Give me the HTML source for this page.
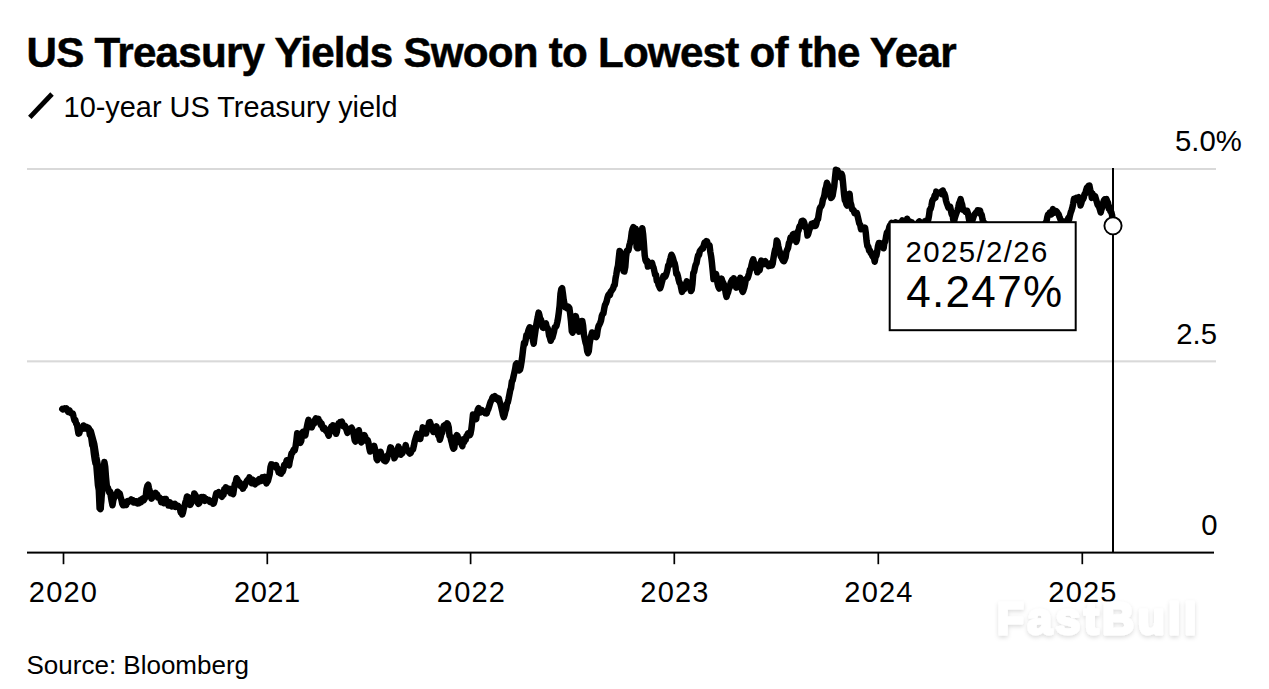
<!DOCTYPE html>
<html><head><meta charset="utf-8">
<style>
html,body{margin:0;padding:0;background:#fff;}
body{width:1269px;height:689px;overflow:hidden;position:relative;}
svg{position:absolute;left:0;top:0;}
text{font-family:"Liberation Sans",sans-serif;fill:#000;}
</style></head><body>
<svg width="1269" height="689" viewBox="0 0 1269 689">
<text x="26.6" y="67.3" font-size="42.2" font-weight="700" letter-spacing="-0.78" stroke="#000" stroke-width="0.5">US Treasury Yields Swoon to Lowest of the Year</text>
<line x1="29.8" y1="117.3" x2="52" y2="94" stroke="#000" stroke-width="4.8"/>
<text x="63.6" y="116.7" font-size="28.9">10-year US Treasury yield</text>
<rect x="27" y="168" width="1189" height="2" fill="#d9d9d9"/>
<rect x="27" y="360.3" width="1189" height="2.1" fill="#d9d9d9"/>
<g font-size="29.3">
<text x="1175" y="151">5.0%</text>
<text x="1217" y="343.8" text-anchor="end">2.5</text>
<text x="1217.5" y="534.8" text-anchor="end">0</text>
</g>
<path d="M62.3 409.0 L63.1 409.5 L63.9 408.9 L64.7 408.3 L65.5 409.0 L66.4 408.4 L67.2 409.9 L68.0 411.8 L68.8 410.1 L69.6 410.6 L70.4 412.8 L71.2 413.3 L72.0 413.6 L72.8 413.5 L73.6 417.0 L74.5 420.3 L75.3 420.0 L76.1 423.5 L76.9 424.0 L77.7 429.1 L78.5 433.6 L79.3 433.4 L80.1 429.8 L80.9 429.5 L81.7 429.1 L82.6 428.6 L83.4 425.5 L84.2 428.0 L85.0 428.5 L85.8 428.6 L86.6 427.0 L87.4 428.9 L88.2 427.7 L89.0 428.6 L89.8 434.7 L90.7 433.7 L91.5 439.3 L92.3 445.2 L93.1 446.7 L93.9 453.8 L94.7 459.3 L95.5 463.3 L96.3 464.7 L97.1 474.8 L97.9 484.8 L98.8 489.8 L99.6 508.3 L100.4 509.1 L101.2 499.1 L102.0 493.6 L102.8 483.0 L103.6 470.4 L104.4 462.1 L105.2 466.8 L106.0 477.4 L106.9 486.9 L107.7 487.4 L108.5 489.8 L109.3 492.5 L110.1 491.5 L110.9 496.7 L111.7 501.4 L112.5 505.3 L113.3 500.3 L114.1 497.8 L115.0 494.9 L115.8 495.7 L116.6 495.4 L117.4 491.7 L118.2 492.3 L119.0 495.6 L119.8 493.6 L120.6 497.1 L121.4 499.7 L122.2 503.7 L123.1 505.3 L123.9 505.3 L124.7 504.3 L125.5 503.5 L126.3 504.9 L127.1 501.4 L127.9 501.1 L128.7 501.8 L129.5 501.1 L130.3 500.9 L131.2 499.5 L132.0 500.9 L132.8 500.2 L133.6 502.4 L134.4 502.0 L135.2 501.4 L136.0 502.5 L136.8 501.5 L137.6 503.5 L138.4 502.4 L139.3 503.1 L140.1 500.4 L140.9 502.3 L141.7 499.3 L142.5 498.6 L143.3 500.6 L144.1 499.6 L144.9 498.1 L145.7 497.0 L146.5 489.3 L147.4 485.9 L148.2 484.7 L149.0 488.5 L149.8 491.1 L150.6 494.5 L151.4 498.6 L152.2 497.6 L153.0 494.7 L153.8 495.2 L154.6 494.5 L155.5 492.9 L156.3 495.3 L157.1 494.4 L157.9 497.5 L158.7 497.1 L159.5 497.6 L160.3 498.5 L161.1 502.1 L161.9 501.6 L162.7 501.9 L163.6 503.1 L164.4 499.0 L165.2 502.1 L166.0 499.0 L166.8 503.3 L167.6 502.3 L168.4 505.4 L169.2 504.6 L170.0 502.4 L170.8 506.0 L171.7 506.3 L172.5 504.3 L173.3 504.1 L174.1 504.6 L174.9 503.9 L175.7 506.9 L176.5 505.1 L177.3 506.0 L178.1 505.8 L178.9 507.3 L179.8 507.7 L180.6 512.3 L181.4 511.8 L182.2 514.5 L183.0 512.4 L183.8 508.4 L184.6 505.8 L185.4 502.3 L186.2 500.0 L187.0 496.5 L187.9 496.9 L188.7 497.3 L189.5 499.9 L190.3 504.9 L191.1 503.3 L191.9 500.6 L192.7 500.2 L193.5 499.3 L194.3 493.4 L195.1 494.7 L196.0 496.3 L196.8 497.1 L197.6 502.5 L198.4 503.8 L199.2 503.2 L200.0 500.2 L200.8 500.0 L201.6 497.1 L202.4 498.0 L203.2 497.1 L204.1 497.2 L204.9 500.9 L205.7 498.8 L206.5 500.2 L207.3 500.1 L208.1 499.8 L208.9 500.0 L209.7 501.8 L210.5 500.9 L211.3 501.4 L212.2 501.9 L213.0 503.7 L213.8 503.4 L214.6 500.6 L215.4 496.9 L216.2 493.4 L217.0 493.9 L217.8 492.8 L218.6 492.1 L219.4 493.8 L220.3 495.0 L221.1 495.8 L221.9 496.8 L222.7 494.4 L223.5 494.9 L224.3 489.2 L225.1 489.9 L225.9 487.3 L226.7 488.5 L227.5 490.8 L228.4 491.2 L229.2 488.8 L230.0 489.0 L230.8 493.2 L231.6 491.1 L232.4 492.7 L233.2 494.1 L234.0 488.8 L234.8 484.0 L235.6 482.8 L236.5 478.3 L237.3 479.2 L238.1 481.2 L238.9 481.7 L239.7 482.5 L240.5 485.9 L241.3 486.4 L242.1 487.1 L242.9 488.7 L243.7 486.8 L244.6 486.2 L245.4 483.2 L246.2 482.4 L247.0 480.7 L247.8 479.7 L248.6 479.9 L249.4 477.4 L250.2 479.1 L251.0 480.0 L251.8 483.1 L252.7 479.6 L253.5 483.5 L254.3 483.2 L255.1 484.2 L255.9 482.0 L256.7 482.0 L257.5 482.3 L258.3 480.0 L259.1 479.2 L259.9 479.0 L260.8 481.1 L261.6 479.9 L262.4 477.4 L263.2 479.6 L264.0 478.3 L264.8 476.9 L265.6 480.7 L266.4 483.4 L267.2 482.0 L268.0 480.7 L268.9 477.2 L269.7 474.2 L270.5 467.2 L271.3 464.3 L272.1 464.5 L272.9 465.0 L273.7 466.5 L274.5 466.5 L275.3 466.5 L276.1 465.3 L277.0 468.7 L277.8 468.5 L278.6 472.2 L279.4 470.5 L280.2 473.4 L281.0 473.6 L281.8 469.9 L282.6 471.8 L283.4 469.4 L284.2 464.8 L285.1 464.3 L285.9 463.6 L286.7 460.2 L287.5 464.5 L288.3 464.6 L289.1 465.3 L289.9 460.3 L290.7 457.3 L291.5 453.3 L292.3 453.0 L293.2 450.8 L294.0 449.3 L294.8 450.2 L295.6 446.4 L296.4 440.3 L297.2 433.3 L298.0 439.3 L298.8 440.1 L299.6 441.6 L300.4 442.8 L301.3 440.7 L302.1 432.9 L302.9 432.0 L303.7 433.3 L304.5 434.9 L305.3 435.3 L306.1 430.9 L306.9 426.9 L307.7 423.0 L308.5 419.8 L309.4 423.6 L310.2 425.0 L311.0 427.3 L311.8 427.4 L312.6 424.6 L313.4 424.1 L314.2 423.5 L315.0 420.0 L315.8 418.4 L316.6 418.7 L317.5 420.1 L318.3 418.8 L319.1 421.4 L319.9 421.5 L320.7 424.7 L321.5 423.5 L322.3 426.3 L323.1 428.7 L323.9 427.4 L324.7 428.2 L325.6 430.4 L326.4 431.3 L327.2 431.1 L328.0 434.1 L328.8 435.6 L329.6 431.1 L330.4 429.5 L331.2 426.8 L332.0 427.0 L332.8 425.3 L333.7 426.8 L334.5 431.3 L335.3 429.8 L336.1 433.8 L336.9 431.6 L337.7 426.5 L338.5 423.5 L339.3 424.4 L340.1 422.1 L340.9 422.1 L341.8 421.6 L342.6 423.9 L343.4 426.3 L344.2 426.5 L345.0 425.9 L345.8 427.9 L346.6 430.3 L347.4 432.8 L348.2 431.3 L349.0 430.9 L349.9 430.1 L350.7 428.4 L351.5 427.8 L352.3 429.1 L353.1 431.7 L353.9 435.4 L354.7 440.2 L355.5 441.5 L356.3 439.7 L357.1 434.2 L358.0 433.6 L358.8 430.2 L359.6 434.2 L360.4 440.4 L361.2 442.4 L362.0 439.9 L362.8 436.6 L363.6 437.0 L364.4 435.2 L365.2 436.8 L366.1 440.7 L366.9 439.7 L367.7 440.1 L368.5 442.9 L369.3 448.0 L370.1 451.5 L370.9 450.4 L371.7 450.2 L372.5 446.8 L373.3 447.9 L374.2 446.0 L375.0 449.1 L375.8 452.3 L376.6 458.9 L377.4 460.0 L378.2 458.1 L379.0 456.5 L379.8 453.6 L380.6 451.8 L381.4 455.2 L382.3 455.6 L383.1 457.7 L383.9 460.3 L384.7 458.4 L385.5 461.3 L386.3 460.3 L387.1 458.4 L387.9 455.1 L388.7 454.7 L389.5 451.4 L390.4 447.3 L391.2 447.8 L392.0 451.9 L392.8 453.4 L393.6 452.2 L394.4 458.3 L395.2 456.4 L396.0 455.4 L396.8 451.3 L397.6 449.5 L398.5 446.6 L399.3 452.7 L400.1 450.8 L400.9 454.7 L401.7 453.3 L402.5 453.2 L403.3 449.2 L404.1 449.3 L404.9 449.4 L405.7 445.1 L406.6 449.7 L407.4 450.4 L408.2 450.2 L409.0 452.5 L409.8 453.5 L410.6 453.0 L411.4 451.3 L412.2 449.8 L413.0 449.4 L413.8 446.1 L414.7 441.4 L415.5 438.7 L416.3 436.0 L417.1 433.7 L417.9 436.5 L418.7 436.5 L419.5 436.9 L420.3 439.0 L421.1 434.0 L421.9 433.3 L422.8 427.4 L423.6 431.0 L424.4 432.2 L425.2 433.5 L426.0 433.6 L426.8 430.4 L427.6 429.1 L428.4 425.9 L429.2 422.3 L430.0 422.1 L430.9 425.0 L431.7 428.8 L432.5 429.0 L433.3 432.0 L434.1 429.0 L434.9 431.2 L435.7 428.2 L436.5 426.4 L437.3 429.8 L438.1 435.3 L439.0 435.8 L439.8 439.8 L440.6 437.2 L441.4 433.7 L442.2 432.7 L443.0 428.2 L443.8 425.9 L444.6 427.1 L445.4 424.8 L446.2 425.8 L447.1 423.4 L447.9 424.4 L448.7 427.3 L449.5 435.7 L450.3 436.4 L451.1 440.4 L451.9 443.2 L452.7 446.7 L453.5 448.7 L454.3 447.8 L455.2 440.7 L456.0 436.7 L456.8 435.1 L457.6 436.1 L458.4 440.2 L459.2 441.7 L460.0 440.8 L460.8 441.6 L461.6 444.4 L462.4 446.2 L463.3 439.2 L464.1 442.2 L464.9 438.6 L465.7 440.0 L466.5 435.8 L467.3 435.5 L468.1 433.1 L468.9 433.0 L469.7 435.3 L470.5 433.7 L471.4 428.9 L472.2 422.0 L473.0 414.4 L473.8 416.7 L474.6 417.9 L475.4 418.4 L476.2 419.0 L477.0 412.9 L477.8 409.5 L478.6 408.1 L479.5 411.1 L480.3 412.4 L481.1 410.3 L481.9 410.0 L482.7 411.5 L483.5 411.3 L484.3 411.7 L485.1 413.1 L485.9 412.4 L486.7 413.3 L487.6 410.4 L488.4 408.9 L489.2 406.3 L490.0 403.6 L490.8 401.3 L491.6 400.2 L492.4 397.8 L493.2 396.8 L494.0 397.2 L494.8 396.1 L495.7 398.6 L496.5 397.5 L497.3 399.1 L498.1 400.2 L498.9 398.5 L499.7 402.0 L500.5 403.9 L501.3 407.3 L502.1 410.7 L502.9 414.6 L503.8 417.1 L504.6 414.8 L505.4 411.1 L506.2 408.7 L507.0 403.7 L507.8 402.3 L508.6 398.7 L509.4 394.6 L510.2 390.4 L511.0 388.0 L511.9 381.3 L512.7 380.4 L513.5 376.5 L514.3 372.9 L515.1 369.3 L515.9 364.3 L516.7 363.4 L517.5 366.7 L518.3 368.5 L519.1 370.4 L520.0 369.8 L520.8 366.5 L521.6 361.5 L522.4 355.3 L523.2 348.4 L524.0 343.0 L524.8 344.1 L525.6 340.5 L526.4 335.3 L527.2 336.7 L528.1 331.5 L528.9 329.1 L529.7 327.3 L530.5 327.7 L531.3 329.5 L532.1 334.2 L532.9 340.0 L533.7 343.7 L534.5 337.2 L535.3 331.8 L536.2 325.3 L537.0 320.8 L537.8 317.0 L538.6 312.6 L539.4 315.1 L540.2 319.1 L541.0 319.6 L541.8 323.4 L542.6 327.3 L543.4 327.9 L544.3 326.5 L545.1 323.6 L545.9 323.4 L546.7 327.0 L547.5 328.0 L548.3 330.0 L549.1 335.6 L549.9 337.6 L550.7 340.8 L551.5 338.7 L552.4 337.7 L553.2 334.7 L554.0 331.7 L554.8 327.2 L555.6 327.0 L556.4 325.9 L557.2 322.5 L558.0 318.5 L558.8 312.6 L559.6 305.9 L560.5 293.5 L561.3 289.2 L562.1 288.1 L562.9 293.4 L563.7 299.8 L564.5 304.2 L565.3 307.5 L566.1 307.5 L566.9 308.1 L567.7 306.4 L568.6 307.0 L569.4 308.3 L570.2 314.1 L571.0 321.2 L571.8 331.2 L572.6 332.6 L573.4 329.8 L574.2 323.7 L575.0 321.3 L575.8 316.1 L576.7 320.4 L577.5 323.6 L578.3 328.1 L579.1 331.7 L579.9 325.2 L580.7 322.8 L581.5 321.1 L582.3 321.1 L583.1 325.6 L583.9 334.5 L584.8 339.0 L585.6 342.8 L586.4 345.3 L587.2 351.0 L588.0 353.1 L588.8 351.1 L589.6 343.7 L590.4 338.9 L591.2 335.5 L592.0 332.5 L592.9 335.2 L593.7 335.4 L594.5 334.7 L595.3 336.9 L596.1 337.1 L596.9 335.6 L597.7 329.8 L598.5 326.3 L599.3 324.7 L600.1 323.1 L601.0 320.7 L601.8 316.0 L602.6 314.1 L603.4 313.5 L604.2 308.7 L605.0 304.9 L605.8 303.6 L606.6 301.4 L607.4 298.0 L608.2 295.3 L609.1 294.0 L609.9 295.1 L610.7 291.7 L611.5 290.8 L612.3 289.7 L613.1 288.5 L613.9 285.7 L614.7 285.1 L615.5 278.7 L616.3 274.5 L617.2 268.7 L618.0 265.5 L618.8 257.9 L619.6 250.9 L620.4 252.1 L621.2 257.3 L622.0 263.5 L622.8 265.5 L623.6 271.2 L624.4 271.5 L625.3 266.9 L626.1 256.5 L626.9 250.7 L627.7 250.2 L628.5 250.3 L629.3 245.7 L630.1 242.8 L630.9 239.2 L631.7 232.6 L632.5 229.2 L633.4 227.2 L634.2 229.8 L635.0 228.9 L635.8 228.7 L636.6 247.0 L637.4 248.3 L638.2 248.3 L639.0 243.8 L639.8 241.2 L640.6 238.2 L641.5 233.4 L642.3 228.3 L643.1 234.1 L643.9 243.7 L644.7 255.3 L645.5 260.1 L646.3 261.8 L647.1 260.6 L647.9 266.6 L648.7 265.9 L649.6 265.6 L650.4 265.3 L651.2 263.0 L652.0 262.8 L652.8 266.1 L653.6 267.9 L654.4 271.4 L655.2 275.0 L656.0 275.0 L656.8 280.7 L657.7 280.4 L658.5 284.9 L659.3 286.6 L660.1 288.4 L660.9 286.2 L661.7 282.9 L662.5 280.1 L663.3 276.0 L664.1 276.2 L664.9 277.0 L665.8 275.5 L666.6 273.0 L667.4 270.0 L668.2 265.4 L669.0 265.4 L669.8 260.6 L670.6 257.8 L671.4 254.7 L672.2 256.1 L673.0 258.4 L673.9 261.7 L674.7 263.4 L675.5 267.2 L676.3 273.6 L677.1 273.4 L677.9 276.1 L678.7 280.0 L679.5 283.0 L680.3 283.5 L681.1 287.5 L682.0 291.9 L682.8 290.3 L683.6 288.5 L684.4 288.8 L685.2 284.3 L686.0 283.7 L686.8 281.3 L687.6 285.6 L688.4 282.7 L689.2 286.0 L690.1 287.8 L690.9 291.0 L691.7 289.7 L692.5 283.7 L693.3 272.9 L694.1 272.0 L694.9 267.8 L695.7 264.6 L696.5 263.3 L697.3 258.8 L698.2 255.0 L699.0 255.0 L699.8 251.2 L700.6 250.0 L701.4 249.2 L702.2 248.0 L703.0 248.6 L703.8 245.2 L704.6 242.5 L705.4 242.4 L706.3 241.1 L707.1 241.5 L707.9 245.2 L708.7 245.4 L709.5 245.2 L710.3 251.7 L711.1 256.2 L711.9 262.7 L712.7 270.7 L713.5 279.1 L714.4 276.7 L715.2 276.6 L716.0 273.9 L716.8 278.2 L717.6 283.7 L718.4 286.7 L719.2 288.6 L720.0 285.7 L720.8 283.4 L721.6 278.6 L722.5 281.6 L723.3 283.1 L724.1 284.9 L724.9 287.8 L725.7 293.2 L726.5 296.9 L727.3 294.1 L728.1 292.4 L728.9 288.7 L729.7 287.5 L730.6 283.0 L731.4 281.1 L732.2 279.7 L733.0 280.7 L733.8 278.4 L734.6 281.4 L735.4 283.2 L736.2 287.6 L737.0 287.2 L737.8 285.7 L738.7 283.9 L739.5 280.2 L740.3 277.8 L741.1 283.7 L741.9 289.9 L742.7 291.9 L743.5 290.1 L744.3 287.6 L745.1 283.9 L745.9 279.0 L746.8 278.7 L747.6 278.3 L748.4 275.9 L749.2 273.0 L750.0 269.5 L750.8 268.9 L751.6 264.7 L752.4 261.4 L753.2 259.3 L754.0 262.5 L754.9 263.5 L755.7 267.4 L756.5 267.9 L757.3 272.3 L758.1 271.7 L758.9 269.4 L759.7 270.1 L760.5 265.0 L761.3 260.6 L762.1 261.4 L763.0 262.4 L763.8 264.1 L764.6 262.4 L765.4 261.3 L766.2 263.8 L767.0 264.4 L767.8 264.5 L768.6 266.1 L769.4 264.8 L770.2 265.5 L771.1 263.0 L771.9 265.5 L772.7 263.5 L773.5 258.0 L774.3 253.5 L775.1 249.6 L775.9 247.9 L776.7 240.6 L777.5 241.8 L778.3 246.2 L779.2 250.2 L780.0 252.3 L780.8 256.4 L781.6 257.4 L782.4 259.5 L783.2 260.9 L784.0 261.2 L784.8 259.4 L785.6 257.4 L786.4 251.8 L787.3 249.5 L788.1 247.8 L788.9 242.9 L789.7 241.8 L790.5 237.5 L791.3 237.7 L792.1 236.6 L792.9 234.3 L793.7 233.9 L794.5 237.6 L795.4 239.3 L796.2 241.8 L797.0 239.7 L797.8 231.6 L798.6 230.4 L799.4 226.6 L800.2 226.9 L801.0 223.8 L801.8 221.0 L802.6 220.7 L803.5 221.0 L804.3 223.0 L805.1 226.5 L805.9 228.0 L806.7 228.8 L807.5 235.6 L808.3 233.7 L809.1 230.7 L809.9 228.3 L810.7 227.3 L811.6 223.8 L812.4 223.5 L813.2 224.2 L814.0 225.9 L814.8 222.6 L815.6 225.9 L816.4 223.6 L817.2 219.8 L818.0 219.2 L818.8 213.8 L819.7 208.7 L820.5 207.0 L821.3 206.2 L822.1 204.1 L822.9 199.6 L823.7 197.9 L824.5 194.7 L825.3 189.3 L826.1 187.0 L826.9 182.8 L827.8 184.9 L828.6 188.3 L829.4 192.3 L830.2 195.5 L831.0 198.0 L831.8 197.2 L832.6 195.6 L833.4 190.8 L834.2 186.5 L835.0 177.7 L835.9 169.7 L836.7 173.1 L837.5 170.3 L838.3 173.6 L839.1 173.3 L839.9 177.0 L840.7 177.6 L841.5 173.7 L842.3 175.8 L843.1 183.7 L844.0 193.8 L844.8 200.2 L845.6 201.4 L846.4 204.2 L847.2 205.5 L848.0 201.9 L848.8 200.6 L849.6 193.8 L850.4 202.2 L851.2 204.7 L852.1 209.5 L852.9 209.6 L853.7 210.4 L854.5 213.2 L855.3 212.3 L856.1 213.1 L856.9 213.1 L857.7 216.4 L858.5 220.0 L859.3 223.5 L860.2 224.8 L861.0 229.2 L861.8 228.0 L862.6 227.9 L863.4 228.7 L864.2 229.4 L865.0 227.6 L865.8 233.0 L866.6 241.3 L867.4 246.3 L868.3 246.6 L869.1 250.7 L869.9 250.5 L870.7 253.2 L871.5 253.1 L872.3 255.8 L873.1 257.1 L873.9 257.3 L874.7 261.7 L875.5 257.2 L876.4 255.7 L877.2 251.4 L878.0 246.0 L878.8 243.1 L879.6 243.1 L880.4 243.9 L881.2 245.1 L882.0 246.0 L882.8 245.2 L883.6 248.3 L884.5 242.0 L885.3 241.6 L886.1 236.5 L886.9 232.7 L887.7 231.6 L888.5 230.8 L889.3 227.1 L890.1 225.3 L890.9 224.7 L891.7 223.0 L892.6 224.1 L893.4 227.1 L894.2 223.4 L895.0 225.3 L895.8 222.3 L896.6 224.2 L897.4 223.1 L898.2 223.1 L899.0 223.6 L899.8 224.8 L900.7 222.5 L901.5 222.1 L902.3 220.5 L903.1 222.4 L903.9 221.2 L904.7 222.4 L905.5 221.1 L906.3 223.3 L907.1 218.8 L907.9 221.4 L908.8 223.3 L909.6 222.1 L910.4 221.9 L911.2 223.3 L912.0 222.5 L912.8 225.2 L913.6 228.9 L914.4 228.0 L915.2 225.3 L916.0 224.7 L916.9 224.5 L917.7 225.4 L918.5 222.2 L919.3 221.5 L920.1 222.7 L920.9 223.5 L921.7 222.9 L922.5 222.8 L923.3 223.2 L924.1 224.8 L925.0 221.4 L925.8 223.7 L926.6 220.4 L927.4 220.4 L928.2 219.9 L929.0 215.7 L929.8 209.5 L930.6 208.9 L931.4 206.0 L932.2 201.2 L933.1 199.3 L933.9 198.8 L934.7 195.3 L935.5 197.7 L936.3 191.6 L937.1 192.9 L937.9 193.5 L938.7 193.0 L939.5 193.1 L940.3 192.7 L941.2 191.8 L942.0 194.2 L942.8 190.5 L943.6 193.9 L944.4 193.6 L945.2 196.2 L946.0 200.6 L946.8 203.3 L947.6 205.4 L948.4 207.7 L949.3 207.5 L950.1 206.6 L950.9 210.5 L951.7 214.3 L952.5 214.0 L953.3 220.2 L954.1 221.4 L954.9 217.6 L955.7 215.2 L956.5 213.0 L957.4 210.6 L958.2 207.5 L959.0 203.6 L959.8 201.7 L960.6 199.2 L961.4 202.5 L962.2 204.9 L963.0 209.8 L963.8 209.7 L964.6 210.4 L965.5 211.8 L966.3 210.8 L967.1 210.7 L967.9 213.3 L968.7 217.8 L969.5 221.7 L970.3 220.4 L971.1 220.7 L971.9 217.3 L972.7 219.4 L973.6 216.6 L974.4 214.6 L975.2 213.8 L976.0 212.5 L976.8 212.6 L977.6 210.4 L978.4 211.7 L979.2 210.5 L980.0 210.5 L980.8 214.4 L981.7 214.7 L982.5 219.2 L983.3 222.6 L984.1 224.0 L984.9 223.4 L985.7 226.2 L986.5 231.5 L987.3 231.6 L988.1 233.1 L988.9 236.5 L989.8 240.3 L990.6 240.8 L991.4 241.3 L992.2 243.5 L993.0 245.9 L993.8 246.3 L994.6 247.7 L995.4 250.6 L996.2 250.4 L997.0 252.6 L997.9 253.9 L998.7 257.9 L999.5 254.9 L1000.3 256.9 L1001.1 257.9 L1001.9 259.8 L1002.7 261.6 L1003.5 260.7 L1004.3 261.4 L1005.1 261.4 L1006.0 263.4 L1006.8 266.4 L1007.6 266.8 L1008.4 266.5 L1009.2 268.4 L1010.0 270.0 L1010.8 270.9 L1011.6 269.8 L1012.4 270.5 L1013.2 268.7 L1014.1 269.9 L1014.9 273.7 L1015.7 269.0 L1016.5 271.7 L1017.3 272.7 L1018.1 272.2 L1018.9 271.9 L1019.7 273.2 L1020.5 273.5 L1021.3 273.7 L1022.2 271.6 L1023.0 274.1 L1023.8 273.5 L1024.6 274.1 L1025.4 274.4 L1026.2 273.0 L1027.0 271.5 L1027.8 267.8 L1028.6 267.7 L1029.4 266.2 L1030.3 264.2 L1031.1 262.7 L1031.9 258.8 L1032.7 256.9 L1033.5 256.3 L1034.3 251.5 L1035.1 251.7 L1035.9 248.8 L1036.7 247.2 L1037.5 243.5 L1038.4 242.7 L1039.2 241.9 L1040.0 241.2 L1040.8 238.8 L1041.6 234.8 L1042.4 232.0 L1043.2 228.6 L1044.0 227.6 L1044.8 224.2 L1045.6 222.7 L1046.5 221.5 L1047.3 217.2 L1048.1 214.4 L1048.9 214.3 L1049.7 212.7 L1050.5 212.1 L1051.3 214.5 L1052.1 212.2 L1052.9 209.1 L1053.7 211.2 L1054.6 212.5 L1055.4 210.9 L1056.2 211.1 L1057.0 212.0 L1057.8 213.3 L1058.6 214.3 L1059.4 216.6 L1060.2 218.7 L1061.0 220.6 L1061.8 222.5 L1062.7 222.9 L1063.5 221.4 L1064.3 224.6 L1065.1 226.2 L1065.9 223.7 L1066.7 223.7 L1067.5 220.5 L1068.3 218.1 L1069.1 219.5 L1069.9 215.7 L1070.8 212.2 L1071.6 210.2 L1072.4 207.5 L1073.2 203.6 L1074.0 198.9 L1074.8 200.2 L1075.6 199.5 L1076.4 197.8 L1077.2 198.3 L1078.0 198.6 L1078.9 197.3 L1079.7 198.9 L1080.5 205.4 L1081.3 203.1 L1082.1 199.9 L1082.9 199.6 L1083.7 197.7 L1084.5 194.1 L1085.3 193.9 L1086.1 190.3 L1087.0 187.6 L1087.8 187.0 L1088.6 185.8 L1089.4 185.5 L1090.2 189.7 L1091.0 192.1 L1091.8 197.9 L1092.6 193.8 L1093.4 197.1 L1094.2 195.8 L1095.1 196.2 L1095.9 198.9 L1096.7 201.6 L1097.5 204.5 L1098.3 205.8 L1099.1 207.0 L1099.9 209.5 L1100.7 212.5 L1101.5 209.3 L1102.3 207.1 L1103.2 202.6 L1104.0 200.2 L1104.8 199.2 L1105.6 199.3 L1106.4 199.1 L1107.2 201.4 L1108.0 202.9 L1108.8 208.6 L1109.6 207.0 L1110.4 211.3 L1111.3 212.1 L1112.1 215.2 L1112.9 224.3 L1113.0 225.6" fill="none" stroke="#000" stroke-width="6.5" stroke-linejoin="round" stroke-linecap="round"/>
<path d="M91 431 L94.5 444 L96.5 457 L98.5 467 L100.5 480 L101.5 500 L101 508" fill="none" stroke="#000" stroke-width="6" stroke-linejoin="round" stroke-linecap="round"/>
<rect x="27" y="551.6" width="1187" height="2" fill="#000"/>
<g fill="#000">
<rect x="62.65" y="553" width="1.7" height="11.2"/>
<rect x="266.45" y="553" width="1.7" height="11.2"/>
<rect x="469.75" y="553" width="1.7" height="11.2"/>
<rect x="673.45" y="553" width="1.7" height="11.2"/>
<rect x="877.45" y="553" width="1.7" height="11.2"/>
<rect x="1081.45" y="553" width="1.7" height="11.2"/>
</g>
<g font-size="29" text-anchor="middle" letter-spacing="1.2">
<text x="63.5" y="601.8">2020</text>
<text x="267.3" y="601.8" letter-spacing="0.5">2021</text>
<text x="471.5" y="601.8">2022</text>
<text x="675" y="601.8">2023</text>
<text x="879" y="601.8">2024</text>
<text x="1083" y="601.8">2025</text>
</g>
<rect x="1112" y="168" width="2" height="385" fill="#000"/>
<circle cx="1113" cy="225.8" r="8.6" fill="#fff" stroke="#000" stroke-width="1.9"/>
<rect x="889.7" y="222.2" width="186" height="108" fill="#fff" stroke="#000" stroke-width="2"/>
<text x="905.5" y="262.2" font-size="29.4" letter-spacing="1.4">2025/2/26</text>
<text x="906.3" y="306.8" font-size="44" letter-spacing="1.3">4.247%</text>
<text x="26.5" y="674.2" font-size="26">Source: Bloomberg</text>
<text x="997" y="634" font-size="44" font-weight="700" letter-spacing="3.7" stroke="#fff" stroke-width="3" stroke-linejoin="round" style="fill:#fff" filter="url(#sh)">FastBull</text>
<defs><filter id="sh" x="-10%" y="-30%" width="120%" height="160%"><feDropShadow dx="0" dy="2" stdDeviation="2" flood-color="#000" flood-opacity="0.14"/></filter></defs>
</svg>
</body></html>
